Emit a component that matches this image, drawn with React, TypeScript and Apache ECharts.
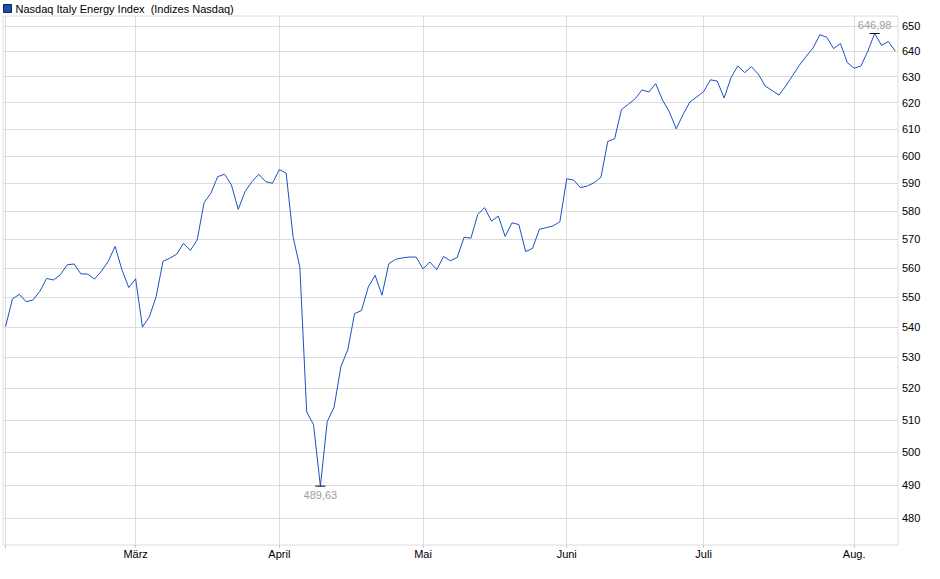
import React, { useEffect, useRef } from 'react';
import * as echarts from 'echarts';

const seriesName = 'Nasdaq Italy Energy Index';
const sourceNote = '(Indizes Nasdaq)';

// one entry per trading day, grouped by month
const monthNames = ['Feb.', 'März', 'April', 'Mai', 'Juni', 'Juli', 'Aug.'];
const febValues = [
    540.2, 549.4, 551.0, 548.5, 549.1, 552.0, 556.4, 555.9, 557.7, 561.1,
    561.4, 558.0, 557.9, 556.2, 558.9, 562.3, 567.5, 559.4, 553.3,
];
const marValues = [
    556.3, 540.0, 543.4, 550.2, 562.3, 563.4, 564.8, 568.6, 566.1, 569.8,
    583.0, 586.4, 592.4, 593.3, 589.4, 580.6, 587.0, 590.6, 593.3, 590.6,
    590.0,
];
const aprValues = [
    595.0, 593.7, 571.0, 560.3, 512.5, 508.5, 489.63, 509.5, 514.0, 527.0,
    532.5, 544.5, 545.5, 553.5, 557.5, 550.7, 561.5, 563.0, 563.5, 563.8,
    563.8,
];
const mayValues = [
    559.7, 562.1, 559.4, 564.0, 562.5, 563.7, 570.7, 570.4, 578.8, 581.2,
    576.4, 578.2, 571.0, 575.8, 575.2, 565.7, 566.8, 573.5, 574.1, 574.7,
    576.2,
];
const junValues = [
    591.6, 591.2, 588.4, 589.0, 590.2, 592.2, 605.4, 606.4, 617.4, 619.4,
    621.5, 624.9, 624.1, 627.3, 621.0, 616.5, 610.1, 615.5, 620.3, 622.2,
];
const julValues = [
    624.2, 628.8, 628.3, 621.8, 629.6, 634.2, 631.6, 633.9, 631.0, 626.4,
    624.7, 622.9, 626.4, 630.4, 634.5, 638.0, 641.3, 646.5, 645.5, 641.0,
    643.0, 635.5,
];
const augValues = [633.3, 634.2, 640.0, 646.98, 642.3, 643.8, 640.0];
const monthValues = [febValues, marValues, aprValues, mayValues, junValues, julValues, augValues];

const yTickValues = [480, 490, 500, 510, 520, 530, 540, 550, 560, 570, 580, 590, 600, 610, 620, 630, 640, 650];

const lineColor = '#1a52c2';
const gridColor = '#dcdcdc';
const fontFamily = 'Arial, "Liberation Sans", sans-serif';

const App: React.FC = () => {
    const chartRef = useRef<HTMLDivElement>(null);

    useEffect(() => {
        const chart = echarts.init(chartRef.current!, null, { renderer: 'svg' });

        const closes = monthValues.flat();
        const monthStarts: number[] = [];
        let count = 0;
        monthValues.forEach(m => {
            monthStarts.push(count);
            count += m.length;
        });
        // the chart draws on a log scale, so the line is plotted in log10 space
        const points = closes.map((v, i) => [i, Math.log10(v)]);
        const monthLabel = (v: number) => {
            const k = monthStarts.indexOf(Math.round(v));
            return k >= 0 ? monthNames[k] : '';
        };
        const priceLabel = (p: any) => (10 ** p.value).toFixed(2).replace('.', ',');

        chart.setOption({
            animation: false,
            textStyle: { fontFamily },
            legend: {
                left: 3,
                top: 3,
                padding: 0,
                itemWidth: 8,
                itemHeight: 8,
                itemGap: 4,
                selectedMode: false,
                data: [
                    {
                        name: seriesName,
                        icon: 'rect',
                        itemStyle: { color: '#1d4fae', borderColor: '#0c2460', borderWidth: 1 },
                    },
                ],
                formatter: (name: string) => `${name}\u00a0\u00a0${sourceNote}`,
                textStyle: { fontSize: 11, color: '#000', fontFamily, padding: [0, 0, 0, -1] },
            },
            grid: {
                left: 3,
                right: 42,
                top: 16,
                bottom: 34,
                show: true,
                borderColor: gridColor,
                borderWidth: 1,
            },
            xAxis: {
                type: 'value',
                min: -0.38,
                max: closes.length - 1 + 0.41,
                axisLine: { show: false },
                axisTick: {
                    show: true,
                    length: 3,
                    customValues: monthStarts,
                    lineStyle: { color: '#c8c8c8' },
                },
                axisLabel: {
                    customValues: monthStarts.slice(1),
                    formatter: monthLabel,
                    margin: 3,
                    fontSize: 11,
                    color: '#000',
                    fontFamily,
                },
                splitLine: { show: true, lineStyle: { color: gridColor, width: 1 } },
            },
            yAxis: {
                type: 'value',
                position: 'right',
                min: Math.log10(472.2),
                max: Math.log10(654),
                axisLine: { show: false },
                axisTick: { show: false, customValues: yTickValues.map(Math.log10) },
                axisLabel: {
                    customValues: yTickValues.map(Math.log10),
                    formatter: (v: number) => String(Math.round(10 ** v)),
                    margin: 4,
                    fontSize: 11,
                    color: '#000',
                    fontFamily,
                },
                splitLine: { show: true, lineStyle: { color: gridColor, width: 1 } },
            },
            series: [
                {
                    name: seriesName,
                    type: 'line',
                    data: points,
                    showSymbol: false,
                    symbol: 'none',
                    lineStyle: { color: lineColor, width: 1 },
                    itemStyle: { color: lineColor },
                    markPoint: {
                        symbol: 'rect',
                        symbolSize: [10, 1],
                        itemStyle: { color: '#000' },
                        data: [
                            {
                                type: 'max',
                                label: { show: true, position: 'top', distance: 3, formatter: priceLabel },
                            },
                            {
                                type: 'min',
                                label: { show: true, position: 'bottom', distance: 3, formatter: priceLabel },
                            },
                        ],
                        label: { fontSize: 11, color: '#a0a0a0', fontFamily },
                    },
                },
            ],
        });

        return () => {
            chart.dispose();
        };
    }, []);

    return <div ref={chartRef} style={{ position: 'absolute', left: 0, top: 0, width: 940, height: 579 }} />;
};

export default App;
